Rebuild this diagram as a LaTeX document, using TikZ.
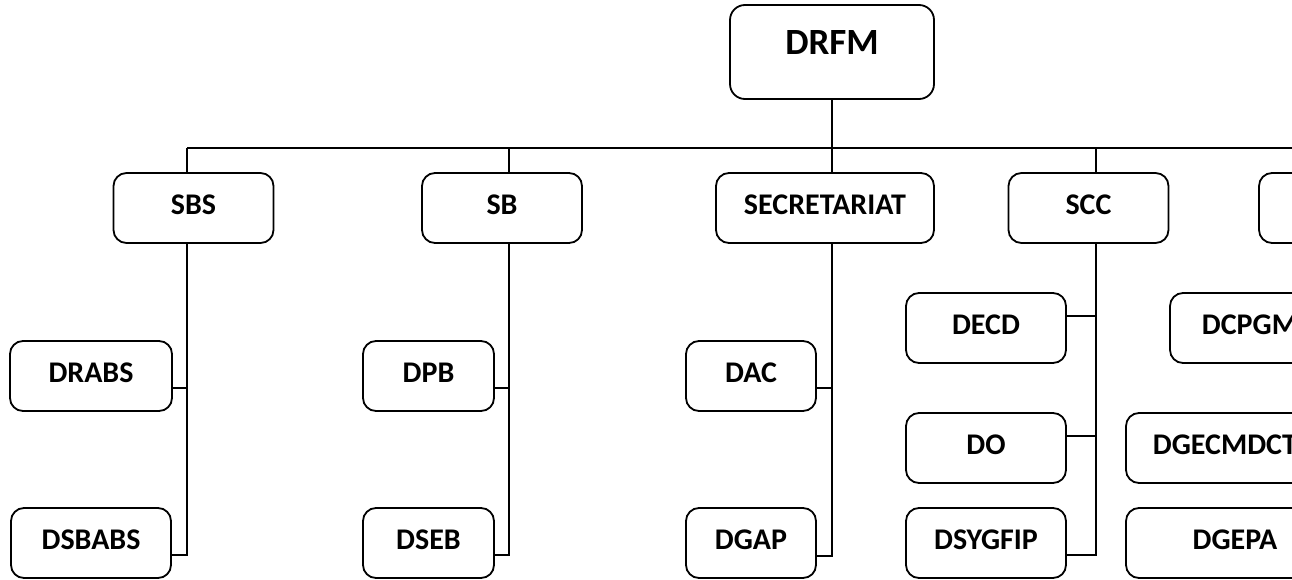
\documentclass[tikz,border=0pt]{standalone}
\usepackage{fontspec}
\setmainfont{Carlito}
\usetikzlibrary{positioning}

\begin{document}
\begin{tikzpicture}[
    x=1pt, y=-1pt,
    headbox/.style={
        rectangle,
        rounded corners=15pt,
        draw=black,
        line width=1.8pt,
        minimum width=204pt,
        minimum height=94pt,
        inner sep=0pt,
        text height=24pt,
        text depth=18pt,
        font=\bfseries\fontsize{37}{40}\selectfont
    },
    unitbox/.style={
        rectangle,
        rounded corners=13pt,
        draw=black,
        line width=1.8pt,
        minimum width=160pt,
        minimum height=70pt,
        inner sep=0pt,
        text height=19pt,
        text depth=7pt,
        font=\bfseries\fontsize{30}{33}\selectfont
    },
    link/.style={
        -,
        line width=1.6pt,
        black
    }
]

\useasboundingbox (0, 0) rectangle (1292, 580);
\clip (0, 0) rectangle (1292, 580);

% =============== DIRECTION ===============

\node[headbox] (drfm) at (832, 52) {DRFM};

% =============== SERVICES ===============

\node[unitbox] (s_sbs)          at (193.5, 208)  {SBS};
\node[unitbox] (s_sb)           at (502, 208)    {SB};
\node[unitbox, minimum width=218pt] (s_secretariat) at (825, 208) {SECRETARIAT};
\node[unitbox] (s_scc)          at (1088.5, 208) {SCC};
\node[unitbox] (s_right)        at (1339, 208)   {};

% Points du bus
\coordinate (bus_sbs) at (187, 148);
\coordinate (bus_sb)  at (509, 148);
\coordinate (bus_sec) at (832, 148);
\coordinate (bus_scc) at (1096, 148);
\coordinate (bus_end) at (1300, 148);

\draw[link] (drfm) -- (bus_sec);
\draw[link] (bus_sbs) -- (bus_end);
\draw[link] (bus_sbs) -- (bus_sbs |- s_sbs.north);
\draw[link] (bus_sb) -- (bus_sb |- s_sb.north);
\draw[link] (bus_sec) -- (bus_sec |- s_secretariat.north);
\draw[link] (bus_scc) -- (bus_scc |- s_scc.north);

% =============== DIVISIONS ===============

% sous SBS
\node[unitbox, minimum width=162pt] (d_drabs)  at (91, 376)   {DRABS};
\node[unitbox] (d_dsbabs) at (91, 543)   {DSBABS};

% sous SB
\node[unitbox, minimum width=131pt] (d_dpb)  at (428.5, 376) {DPB};
\node[unitbox, minimum width=131pt] (d_dseb) at (428.5, 543) {DSEB};

% sous SECRETARIAT
\node[unitbox, minimum width=130pt] (d_dac)  at (751, 376) {DAC};
\node[unitbox, minimum width=130pt] (d_dgap) at (751, 543) {DGAP};

% sous SCC
\node[unitbox] (d_decd)    at (986, 328) {DECD};
\node[unitbox] (d_do)      at (986, 448) {DO};
\node[unitbox] (d_dsygfip) at (986, 543) {DSYGFIP};

% sous le service de droite
\node[unitbox] (d_dcpgm)    at (1250, 328) {DCPGM};
\node[unitbox, minimum width=198pt] (d_dgecmdct) at (1225, 448) {DGECMDCT};
\node[unitbox, minimum width=218pt] (d_dgepa)    at (1235, 543) {DGEPA};

% Ligations des divisions
\draw[link] (s_sbs.south -| bus_sbs) |- ([yshift=-12pt]d_dsbabs.east);
\draw[link] ([yshift=-12pt]d_drabs.east) -- ([yshift=-12pt]d_drabs.east -| bus_sbs);

\draw[link] (s_sb.south -| bus_sb) |- ([yshift=-12pt]d_dseb.east);
\draw[link] ([yshift=-12pt]d_dpb.east) -- ([yshift=-12pt]d_dpb.east -| bus_sb);

\draw[link] (s_secretariat.south -| bus_sec) |- ([yshift=-13pt]d_dgap.east);
\draw[link] ([yshift=-12pt]d_dac.east) -- ([yshift=-12pt]d_dac.east -| bus_sec);

\draw[link] (s_scc.south -| bus_scc) |- ([yshift=-12pt]d_dsygfip.east);
\draw[link] ([yshift=12pt]d_decd.east) -- ([yshift=12pt]d_decd.east -| bus_scc);
\draw[link] ([yshift=12pt]d_do.east) -- ([yshift=12pt]d_do.east -| bus_scc);

\end{tikzpicture}
\end{document}
